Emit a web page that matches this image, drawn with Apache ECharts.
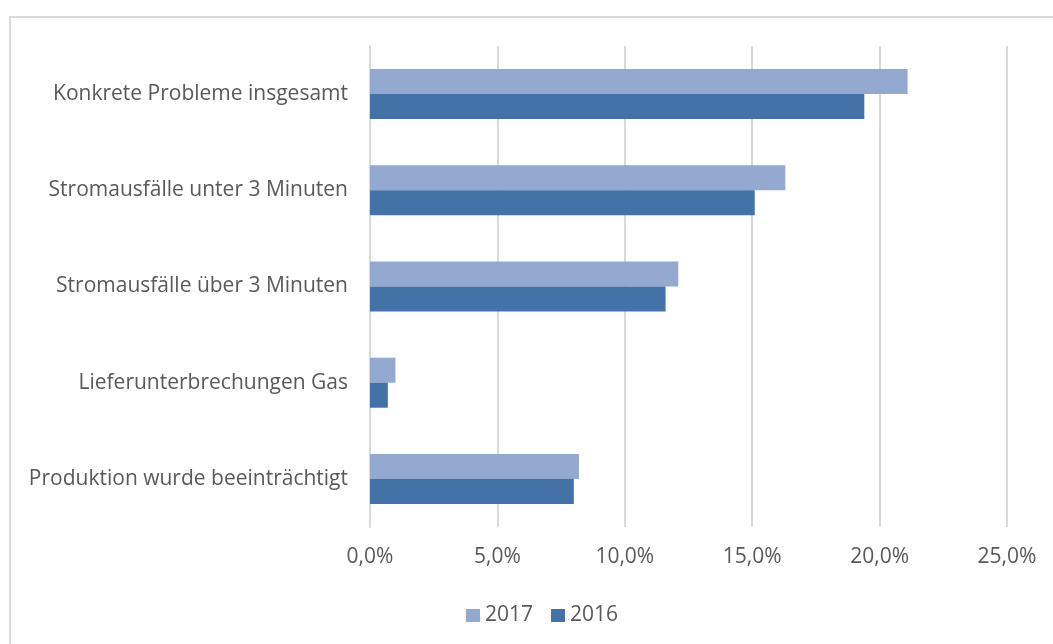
<!DOCTYPE html>
<html>
<head>
<meta charset="utf-8">
<script src="https://cdn.jsdelivr.net/npm/echarts@6/dist/echarts.min.js"></script>
<style>
  html, body { margin: 0; padding: 0; background: #fff; }
  #frame { position: absolute; left: 9px; top: 16px; width: 1100px; height: 700px; border: 2px solid #d9d9d9; box-sizing: border-box; }
  #chart { position: absolute; left: 0; top: 0; width: 1053px; height: 644px; }
</style>
</head>
<body>
<div id="frame"></div>
<div id="chart"></div>
<script>
const categories = [
  'Konkrete Probleme insgesamt',
  'Stromausfälle unter 3 Minuten',
  'Stromausfälle über 3 Minuten',
  'Lieferunterbrechungen Gas',
  'Produktion wurde beeinträchtigt'
];
const values2017 = [21.1, 16.3, 12.1, 1.0, 8.2];
const values2016 = [19.4, 15.1, 11.6, 0.7, 8.0];

const fontFamily = 'Open Sans';
const chartDom = echarts.init(document.getElementById('chart'));
chartDom.setOption({
  animation: false,
  textStyle: { fontFamily: fontFamily },
  legend: {
    data: ['2017', '2016'],
    top: 600,
    left: 461,
    itemWidth: 14,
    itemHeight: 13,
    itemGap: 18,
    icon: 'rect',
    textStyle: { color: '#595959', fontSize: 21, fontFamily: fontFamily }
  },
  grid: {
    left: 370,
    right: 46,
    top: 46,
    bottom: 117
  },
  xAxis: {
    type: 'value',
    min: 0,
    max: 25,
    interval: 5,
    axisLabel: {
      color: '#595959',
      fontSize: 21,
      margin: 20,
      formatter: v => v.toFixed(1).replace('.', ',') + '%'
    },
    axisLine: { show: false },
    axisTick: { show: false },
    splitLine: { lineStyle: { color: '#d9d9d9', width: 2 } }
  },
  yAxis: {
    type: 'category',
    inverse: true,
    data: categories,
    axisLabel: { color: '#595959', fontSize: 21, margin: 22 },
    axisLine: { show: true, lineStyle: { color: '#d9d9d9', width: 2 } },
    axisTick: { show: false }
  },
  series: [
    {
      name: '2017',
      type: 'bar',
      data: values2017,
      barGap: 0,
      barCategoryGap: '48%',
      itemStyle: { color: '#93a9cf' }
    },
    {
      name: '2016',
      type: 'bar',
      data: values2016,
      itemStyle: { color: '#4472a6' }
    }
  ]
});
</script>
</body>
</html>
